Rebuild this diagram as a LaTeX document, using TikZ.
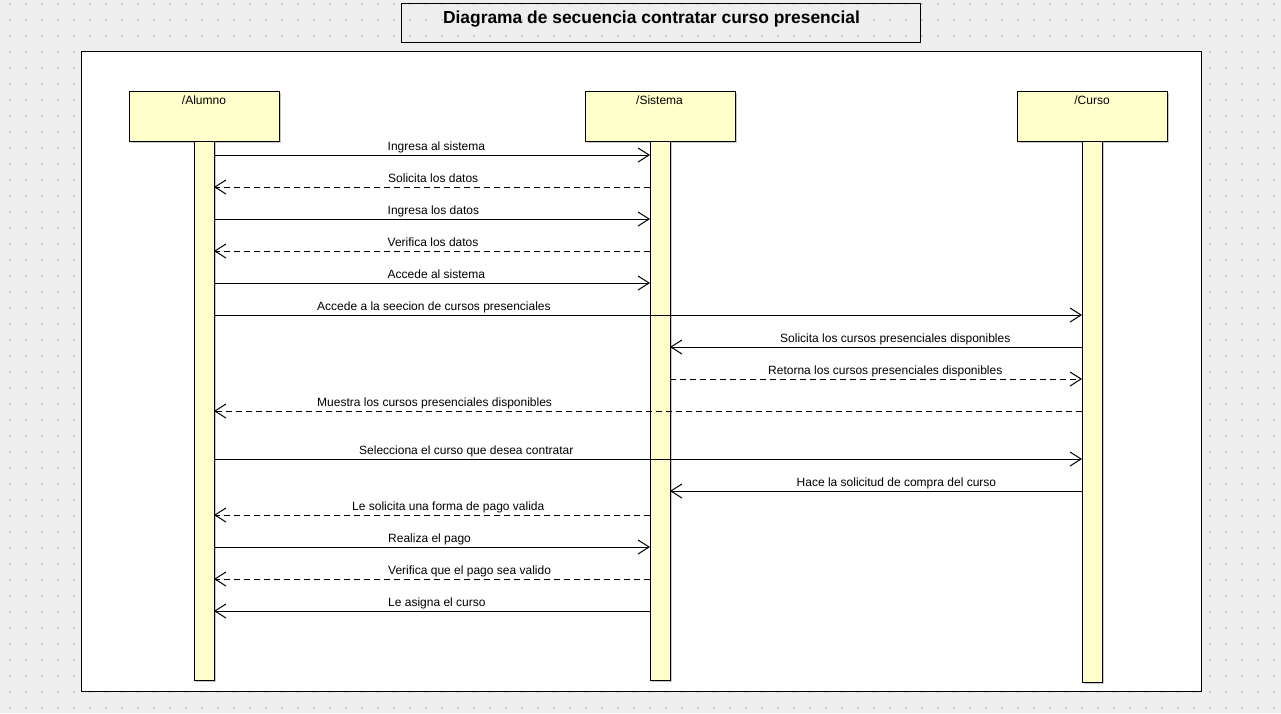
\documentclass[tikz,border=0pt]{standalone}
\usepackage{fontspec}
\setmainfont{Liberation Sans}
\usetikzlibrary{arrows.meta,shadows}
\definecolor{bggray}{RGB}{238,238,238}
\definecolor{dotgray}{RGB}{208,208,208}
\definecolor{lifeyellow}{RGB}{255,255,204}
\begin{document}
\begin{tikzpicture}[x=1pt,y=-1pt,
  headbox/.style={draw=black,line width=1pt,fill=lifeyellow,minimum width=150pt,minimum height=50pt,inner sep=0pt,outer sep=0pt,
    drop shadow={shadow xshift=2pt,shadow yshift=-2pt,opacity=1,fill=black!22}},
  actbar/.style={draw=black,line width=1pt,fill=lifeyellow,minimum width=20pt,inner sep=0pt,outer sep=0pt,
    drop shadow={shadow xshift=2pt,shadow yshift=-2pt,opacity=1,fill=black!22}},
  headlabel/.style={anchor=base,font=\fontsize{12}{14}\selectfont,inner sep=0pt},
  msg/.style={line width=1pt,-{Straight Barb[length=11pt,width=14pt,line width=1pt]}},
  reply/.style={msg,dash pattern=on 6pt off 4pt},
  msglabel/.style={anchor=base west,font=\fontsize{12}{14}\selectfont,inner sep=0pt}
]
\useasboundingbox (0,0) rectangle (1281,713);
\fill[bggray] (0,0) rectangle (1281,713);
\foreach \i in {0,...,79}{
  \foreach \j in {0,...,44}{
    \fill[dotgray] ({9+16*\i},{3+16*\j}) rectangle ++(2,2);
  }
}
% title
\draw[line width=1pt] (401,3) rectangle (920,42);
\node[anchor=base,font=\bfseries\fontsize{17.4}{20}\selectfont,inner sep=0pt] (title) at (651.5,23.5) {Diagrama de secuencia contratar curso presencial};
% frame
\draw[line width=1pt,fill=white] (81,51) rectangle (1201,691);
% lifelines
\node[headbox] (HA) at (204,116) {};
\node[headbox] (HS) at (660,116) {};
\node[headbox] (HC) at (1092,116) {};
\node[headlabel] (LA) at (204,104.5) {/Alumno};
\node[headlabel] (LS) at (659.5,104.5) {/Sistema};
\node[headlabel] (LC) at (1092,104.5) {/Curso};
\node[actbar,minimum height=539pt] (A) at (204,410.5) {};
\node[actbar,minimum height=539pt] (S) at (660,410.5) {};
\node[actbar,minimum height=541pt] (C) at (1092,411.5) {};
% messages
\draw[msg]   (A.east |- 0,155) -- (S.west |- 0,155);
\node[msglabel] (m1) at (387.5,150) {Ingresa al sistema};
\draw[reply] (S.west |- 0,187) -- (A.east |- 0,187);
\node[msglabel] (m2) at (388,182) {Solicita los datos};
\draw[msg]   (A.east |- 0,219) -- (S.west |- 0,219);
\node[msglabel] (m3) at (387.5,214) {Ingresa los datos};
\draw[reply] (S.west |- 0,251) -- (A.east |- 0,251);
\node[msglabel] (m4) at (387.5,246) {Verifica los datos};
\draw[msg]   (A.east |- 0,283) -- (S.west |- 0,283);
\node[msglabel] (m5) at (387.5,278) {Accede al sistema};
\draw[msg]   (A.east |- 0,315) -- (C.west |- 0,315);
\node[msglabel] (m6) at (317,310) {Accede a la seecion de cursos presenciales};
\draw[msg]   (C.west |- 0,347) -- (S.east |- 0,347);
\node[msglabel] (m7) at (780,342) {Solicita los cursos presenciales disponibles};
\draw[reply] (S.east |- 0,379) -- (C.west |- 0,379);
\node[msglabel] (m8) at (768,374) {Retorna los cursos presenciales disponibles};
\draw[reply] (C.west |- 0,411) -- (A.east |- 0,411);
\node[msglabel] (m9) at (317,406) {Muestra los cursos presenciales disponibles};
\draw[msg]   (A.east |- 0,459) -- (C.west |- 0,459);
\node[msglabel] (m10) at (359,454) {Selecciona el curso que desea contratar};
\draw[msg]   (C.west |- 0,491) -- (S.east |- 0,491);
\node[msglabel] (m11) at (796.5,486) {Hace la solicitud de compra del curso};
\draw[reply] (S.west |- 0,515) -- (A.east |- 0,515);
\node[msglabel] (m12) at (352,510) {Le solicita una forma de pago valida};
\draw[msg]   (A.east |- 0,547) -- (S.west |- 0,547);
\node[msglabel] (m13) at (388,542) {Realiza el pago};
\draw[reply] (S.west |- 0,579) -- (A.east |- 0,579);
\node[msglabel] (m14) at (388,574) {Verifica que el pago sea valido};
\draw[msg]   (S.west |- 0,611) -- (A.east |- 0,611);
\node[msglabel] (m15) at (388,606) {Le asigna el curso};
\end{tikzpicture}
\end{document}
